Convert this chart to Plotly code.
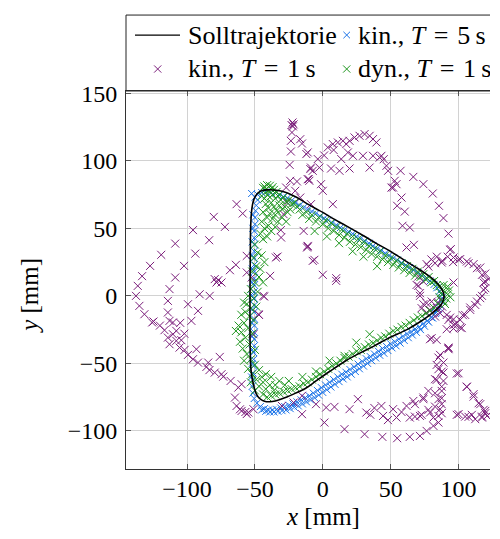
import plotly.graph_objects as go

# ---------------- data (mm) ----------------
soll_x = [-41, -34, -26, -19, -12, -5, 0, 8, 17, 30, 40, 49, 60, 68, 75, 81, 85, 87.5, 89, 89.3,
          88.5, 86.5, 83, 79, 72, 62, 49, 38, 28, 17, 5, -5, -12, -20, -28, -35, -39, -43, -46.5,
          -49, -51, -52.5, -53.2, -53.6, -53.6, -53.4, -53.1, -52.3, -51.1, -49.5, -47.4, -44.5, -41]
soll_y = [78.5, 78.2, 76.2, 72.8, 68.5, 64.5, 61.8, 57, 52, 44.5, 38.5, 33.5, 26.5, 21.5, 17, 12.6,
          8.6, 5.2, 2, -1, -4, -7.5, -10.8, -14, -19, -25, -31, -37, -42, -48, -56, -63, -68, -72,
          -75.5, -77.8, -78.4, -78, -76, -72.5, -66, -58, -50, -30, 0, 30, 52, 64, 70.4, 74, 76.5,
          78, 78.5]

kin5_pts = [
    (-52.4, 75.8), (-50, 73), (-48, 75), (-45, 76.5), (-42, 77), (-38, 76.5), (-35, 76), (-32, 74.5),
    (-29, 73.5), (-26, 72.5), (-23, 70.5), (-20, 69), (-17, 67), (-14, 65.5), (-11, 64), (-8, 62.5),
    (-5, 61), (-2, 59), (1, 57.5), (4, 56), (7, 54), (10, 52.5), (13, 50.5), (16, 49), (19, 47.5),
    (22, 46), (25, 44), (28, 42.5), (31, 40.5), (34, 39), (37, 37), (40, 35), (43, 33.5), (46, 31.5),
    (49, 30), (52, 28), (55, 26.5), (58, 24.5), (61, 22.5), (64, 21), (67, 19), (70, 17), (73, 15),
    (76, 13), (79, 11), (82, 8.5), (84, 6), (86, 3.5), (87.5, 1), (88, -1.5), (87.5, -4),
    (86.5, -7), (85, -10), (83, -13), (80, -16), (77, -18.5), (74, -20.5), (71, -23), (68, -24.5),
    (65, -26.5), (62, -28), (59, -30), (56, -32), (53, -34), (50, -35.5), (47, -37.5), (44, -39),
    (41, -41), (38, -43), (35, -45), (32, -46.5), (29, -48.5), (26, -50.5), (23, -52.5), (20, -54.5),
    (17, -56.5), (14, -58), (11, -60), (8, -62), (5, -64), (2, -66), (-1, -68), (-4, -70), (-7, -72),
    (-10, -74), (-13, -75.5), (-16, -77), (-19, -78.5), (-22, -80), (-25, -81), (-28, -82), (-31, -83),
    (-34, -84), (-37, -84.5), (-40, -84.5), (-43, -83.5), (-46, -82), (-48.5, -79.5), (-50.5, -76),
    (-51.5, -72), (-52, -67), (-51.5, -62), (-51.5, -57), (-51, -52), (-51, -47), (-51, -42),
    (-50.5, -37), (-50.5, -32), (-50.5, -27), (-50.5, -22), (-50.5, -17), (-50.5, -12), (-50.5, -7),
    (-50.5, -2), (-50.5, 3), (-50.5, 8), (-50.5, 13), (-50.5, 18), (-50.5, 23), (-50.5, 28),
    (-50.5, 33), (-50.5, 38), (-50.5, 43), (-50.5, 48), (-50, 53), (-50, 58), (-49.5, 63), (-49, 67),
    (-48, 71),
    (87, -3), (85.5, -8.5), (83.5, -12), (81, -16.5), (78, -19.5), (75, -22.5), (72, -25), (69, -27),
    (66, -29), (63, -31), (60, -33), (57, -35), (54, -37), (51, -38.5), (48, -40.5), (45, -42.5),
    (42, -44), (39, -46), (36, -48), (33, -50), (30, -52), (27, -54), (24, -56), (21, -58), (18, -60),
    (15, -61.5), (12, -63.5), (9, -65.5), (6, -67.5), (3, -69.5), (0, -71.5), (-3, -73.5), (-6, -75.5),
    (-9, -77), (-12, -78.5), (-15, -80), (-18, -81.5), (-21, -82.5), (-24, -83.5), (-27, -84.5),
    (-30, -85), (-33, -85.5), (-36, -86), (-39, -86), (-42, -85.5), (-45, -84.5),
    (-52.5, -60), (-52, -50), (-52, -40), (-52, -30), (-52, -20), (-52, -10), (-52, 0), (-52, 10),
    (-52, 20), (-52, 30), (-52, 40), (-51.5, 50), (-51.5, 60),
]

kin1_pts = [
    (-22.3, 128.4), (-21.5, 127), (-23, 126.5), (-22, 125.5), (-22.7, 121), (-23.5, 114.8),
    (-16.6, 116), (-15.3, 112.8), (-23.5, 106.9), (-12.1, 105), (-24.4, 97), (-10.4, 86.4),
    (-9.2, 93.9), (-24, 85.2), (-19, 84.7), (-27, 80.2), (-20.3, 77.8), (-16.6, 72.8), (-26.4, 69.1),
    (-28.9, 60.5), (-30.9, 48.7), (-30.7, 43.2), (-14.1, 48.1), (-11.6, 35.8), (-34.6, 28.4),
    (-38.8, 14.8), (-11.1, 36.5), (-6.2, 26.7), (0, 15.6), (9.9, 13.1), (-33.3, 29.1), (-43.2, -0.5),
    (-47, -14.1), (-7.4, 25.9), (9.9, 11.1),
    (-63.5, 67.9), (-59, 61), (-80.3, 58.5), (-72.1, 51.1), (-95.6, 48.7), (-83.7, 41.2),
    (-108.7, 38.7), (-93.9, 31.3), (-119, 30.4), (-102.2, 22.2), (-127.2, 22.2), (-133.1, 14.6),
    (-108.7, 13.6), (-64, 23), (-68.4, 19), (-56, 29.6), (-79.6, 12.4), (-77, 11.6), (-56, 17.3),
    (-52.4, 13.6),
    (-136.3, 7.4), (-137.6, 0), (-135.1, -7.4), (-131.4, -13.6), (-125.7, -19.7), (-112.9, 5),
    (-114.1, -3.7), (-114.1, -12.3), (-116.6, -25.4), (-112.9, -18.5), (-110.4, -19.7),
    (-114.1, -30.9), (-110.4, -28.4), (-107.9, -25.9), (-112.9, -35.8), (-107.9, -33.3),
    (-104.2, -32.8), (-105.5, -38.3), (-101.8, -40), (-99.3, -43.7), (-95.6, -46.9), (-91.9, -49.4),
    (-85.7, -52.6), (-79.6, -56.8), (-73.3, -59.8), (-67.9, -63), (-62.2, -67.9), (-64.7, -75.3),
    (-63.5, -81.5), (-59.8, -85.2), (-54.8, -86.4), (-51.1, -83.9), (-57, -86), (-61, -84),
    (-56, -87.5), (-99.3, -6.2), (-96.8, -18.5), (-91.9, -11.1), (-90.7, 1.2), (-83.3, 0),
    (-93.1, -39.5), (-84.4, -49.4), (-83.5, -55), (-75.9, -45.2), (-74.6, -58), (-78.3, 9.9),
    (-74.6, 9.9), (-43.7, 0), (-47.4, -13.6), (-51.1, -28.4), (-59.8, -65.4), (-15.3, -87.6),
    (-30.1, -81.5), (-21.5, -79), (-15.3, -74), (-124.7, -19), (-120, -22), (-105, -20), (-102, -28),
    (-11.1, 106.2), (-8.7, 95), (-7.4, 92.6), (-11.1, 86.4), (-9.9, 85.2), (-1.3, 82.7), (0, 77.8),
    (-3.7, 101.3), (-2.5, 95), (3.7, 109.9), (7.4, 112.4), (11.1, 113.6), (14.8, 114.8),
    (17.3, 112.4), (19.7, 114.8), (23.4, 117.3), (27.1, 118.5), (30.8, 119.8), (34.5, 118.5),
    (37, 116.1), (39.5, 113.6), (43.2, 103.7), (44.9, 101.2), (46.9, 96.3), (48.1, 92.6), (53, 85.2),
    (51.8, 80.2), (57.3, 92.6), (66.7, 88.1), (74.1, 82.7), (81, 75.8), (85.6, 66.7), (88.9, 57.6),
    (92.6, 46.1), (94.3, 34.6), (96.3, 28.4), (101.2, 27.2), (106.1, 25.4), (111.1, 23.5), (116, 21),
    (119.7, 16.5), (122.2, 12.4),
    (6.1, 94.3), (12.3, 92.6), (19.7, 94.3), (13.6, 101.3), (18.5, 106.2), (22.2, 103.7),
    (29.6, 103.7), (34.5, 95), (37, 103.7), (41.9, 102.4), (50.6, 80.2), (54.3, 82.7), (58, 72.8),
    (54.8, 66.7), (60.4, 62.4), (58.7, 51.9), (64.1, 50.6), (61.7, 35.8), (67.1, 37.8), (-8.7, 67.9),
    (7.4, 67.9), (-11.1, 37), (1, 104), (8, 108),
    (76.5, 23.5), (80, 27), (84, 29), (88, 26), (92, 29), (96, 25), (82.7, 24.2), (87.6, 24.7),
    (77.8, 21.7), (100, 26.7), (107.4, 24.2), (113.6, 20.5), (117.3, 15.6), (119.7, 10.6),
    (118.5, 4.4), (116, -1.7), (112.3, -6.7), (108.6, -10.4), (104.9, -14.1), (101.2, -17.8),
    (102.4, -23.9), (96.3, -21.5), (92.6, -17.8), (91.3, -14.1), (93.8, 34.1), (118.5, 9.9),
    (119.7, 5.7), (117.3, 0), (113.6, -4.2), (108.6, -8.6), (103.2, -14.3), (97.5, -21), (96.3, -24.2),
    (91.3, -24.7), (101.2, -23.5), (93.8, -16.1), (96.3, -17.3), (96.3, 9.9),
    (70.4, 14.3), (69.1, 8.1), (71.6, 2), (74.1, 10.6), (80.2, -4.2), (76.5, -5.4), (72.8, -9.1),
    (79, -10.4), (82.7, -15.3), (86.4, -12.8), (70.4, 7.4), (71.6, 0), (74.1, -6.2), (76.5, -12.3),
    (85, -5), (88, -8), (84, -9), (87, -3),
    (80.2, -31.3), (83.9, -32.6), (79, -32.1), (92.6, -39.5), (92.6, -38.8), (86.4, -43.7),
    (85.2, -45.7), (88.9, -49.4), (83.9, -51.1), (85.2, -54.3), (87.6, -56.1), (88.9, -56.8),
    (82.7, -61.7), (83.9, -62.2), (88.9, -63), (87.6, -67.2), (87.6, -70.4), (77.8, -70.4),
    (82.7, -72.1), (85.2, -76.5), (87.6, -75.8), (74.1, -76.5), (87.6, -80.2), (82.7, -82),
    (67.9, -80.2), (86.4, -83.9), (77.8, -84.4), (79, -86.4), (87.6, -86.9), (85.2, -88.9),
    (81.5, -90.1), (72.8, -88.1), (71.6, -88.9), (67.9, -89.4), (64.1, -90.1), (54.3, -90.1),
    (44.4, -88.9), (32.1, -86.4), (19.7, -83.9), (8.6, -82.2), (2.5, -82.7), (-5, -80.2),
    (1.2, -93.8), (16, -98.7), (30.8, -102.4), (43.9, -104.4), (54.8, -105.4), (64.1, -104.4),
    (71.6, -103.7), (76.5, -100), (81.5, -96.3), (85.2, -93.8), (25.9, -76.5), (43.2, -81.5),
    (51.8, -83.9), (61.7, -81.5), (66.7, -77.8), (74.1, -75.3), (35, -88), (48, -92), (58, -86),
    (38, -83),
    (106.1, -67.4), (111.1, -72.8), (116, -80.2), (119.7, -85.2), (121, -88.9), (117.3, -90.1),
    (112.3, -91.3), (107.4, -89.6), (100, -87.6), (98.7, -57.5), (100, -57.3), (106.1, -67.2),
    (111.1, -74.6), (114.8, -79.5), (118.5, -84.4), (119.7, -86.9), (117.3, -89.4), (109.8, -88.1),
    (104.9, -89.4), (98.7, -88.1), (92.6, -38.3),
]

dyn1_pts = [
    (-43, 81), (-41, 82), (-39, 81.5), (-37, 80.5), (-42, 79), (-40, 78), (-38, 79), (-36, 78.5),
    (-34, 77), (-44, 80),
    (-45, 74), (-43, 72), (-41, 75), (-39, 73), (-37, 75), (-35, 72), (-33, 74), (-31, 71), (-29, 73),
    (-27, 70), (-25, 71), (-23, 68), (-21, 69), (-19, 66), (-17, 64), (-42, 68), (-40, 65), (-38, 69),
    (-36, 66), (-34, 63), (-32, 67), (-30, 64), (-28, 66), (-26, 62), (-24, 64), (-44, 62), (-41, 58),
    (-39, 61), (-37, 57), (-35, 60), (-33, 55), (-30, 58), (-27, 55), (-45, 55), (-43, 50), (-40, 52),
    (-38, 48), (-35, 51), (-46, 46), (-44, 42), (-41, 44),
    (-15, 60), (-12, 62), (-10, 57), (-8, 60), (-5, 55), (-3, 58), (0, 53), (2, 56), (4, 50), (6, 54),
    (8, 48), (10, 51), (12, 45), (14, 49), (16, 43), (18, 46), (20, 40), (22, 44), (24, 38), (26, 42),
    (28, 36), (30, 40), (32, 34), (34, 37), (36, 31), (38, 35), (40, 29), (42, 33), (44, 27), (46, 30),
    (48, 25), (50, 28), (52, 23), (54, 26), (56, 21), (58, 24), (60, 19), (62, 22), (64, 17), (66, 20),
    (68, 15), (70, 18), (72, 14), (74, 16), (76, 12), (78, 14), (80, 10), (82, 11), (84, 8), (86, 7),
    (-6, 48), (3, 44), (12, 39), (22, 33), (30, 29), (40, 22),
    (88, 5), (90, 3), (92, 1), (91, -2), (89, -4), (93, 4), (90, -6), (87, 2), (92, 7), (89, 8),
    (94, -1), (86, -1),
    (85, -6), (82, -9), (79, -11), (76, -13), (73, -15), (70, -16), (67, -18), (64, -20), (61, -22),
    (58, -23), (55, -25), (52, -26), (49, -28), (46, -30), (43, -31), (40, -33), (37, -35), (34, -36),
    (31, -38), (28, -40), (25, -41), (22, -43), (19, -45), (16, -46), (13, -48), (10, -50), (7, -52),
    (4, -54), (1, -56), (-2, -58), (-5, -60), (-8, -62), (-11, -64), (-14, -65), (-17, -67),
    (-20, -68), (-23, -69), (-26, -70), (-29, -71), (-32, -72), (-35, -73), (-38, -74), (-41, -75),
    (-44, -73),
    (34.5, -28.4), (24.7, -34.6), (16, -44.4), (5, -48), (-5, -56), (-15, -60), (-25, -63),
    (-32, -63), (-38, -60), (-42, -58), (-35, -66), (-28, -66),
    (-50, 38), (-48, 32), (-51, 28), (-49, 22), (-52, 18), (-47, 14), (-50, 10), (-53, 5), (-48, 3),
    (-55, 0), (-51, -2), (-56, -6), (-53, -9), (-58, -5), (-49, -8), (-57, -12), (-54, -15),
    (-60, -14), (-51, -18), (-58, -20), (-62, -22), (-55, -24), (-60, -27), (-64, -26), (-52, -28),
    (-57, -31), (-61, -34), (-54, -36), (-59, -39), (-50, -40), (-56, -43), (-53, -47), (-58, -48),
    (-50, -51), (-55, -54), (-47, -55), (-52, -58), (-49, -62), (-45, -60), (-53, -64), (-47, -67),
    (-44, -64), (-50, -70), (-42, -69), (-39, -66), (-36, -70),
    (-45, 30), (-43, 25), (-46, 20), (-44, 10),
]

x_ticks = [-100, -50, 0, 50, 100]
y_ticks = [-100, -50, 0, 50, 100, 150]

series_names = ["Solltrajektorie",
                "kin., <i>T</i>\u2004=\u20045\u2009s",
                "kin., <i>T</i>\u2004=\u20041\u2009s",
                "dyn., <i>T</i>\u2004=\u20041\u2009s"]


def lab(v):
    return ("\u2212" + str(abs(v))) if v < 0 else str(v)


FONT = "Liberation Serif"
C_BLUE = "#1a73e8"
C_PURPLE = "#7b1e7b"
C_GREEN = "#1e961e"


def xs(p):
    return [a for a, b in p]


def ys(p):
    return [b for a, b in p]


fig = go.Figure()
fig.add_trace(go.Scatter(x=xs(kin5_pts), y=ys(kin5_pts), mode="markers", name=series_names[1],
                         marker=dict(symbol="x-thin", size=7, line=dict(color=C_BLUE, width=1))))
fig.add_trace(go.Scatter(x=xs(kin1_pts), y=ys(kin1_pts), mode="markers", name=series_names[2],
                         marker=dict(symbol="x-thin", size=8, line=dict(color=C_PURPLE, width=1))))
fig.add_trace(go.Scatter(x=xs(dyn1_pts), y=ys(dyn1_pts), mode="markers", name=series_names[3],
                         marker=dict(symbol="x-thin", size=8, line=dict(color=C_GREEN, width=1))))
fig.add_trace(go.Scatter(x=soll_x, y=soll_y, mode="lines", name=series_names[0],
                         line=dict(color="black", width=1.6, shape="spline")))

axis_common = dict(
    showgrid=True, gridcolor="#d2d2d2", gridwidth=1, zeroline=False,
    showline=True, linecolor="#333333", linewidth=1,
    ticks="inside", ticklen=5, tickcolor="#555555", automargin=False,
    tickfont=dict(family=FONT, size=24, color="black"),
)

# The page has an 8px body margin: the figure (482x523) sits at page (8, 8).
# Plot area in page pixels: x 126..490, y 91..469.3  (paper units below)
PW, PH = 364.0, 378.3


def px(page_x):
    return (page_x - 126.0) / PW


def py(page_y):
    return (469.3 - page_y) / PH


def cross(cx, cy, color, r=3.6):
    x0, x1 = px(cx - r), px(cx + r)
    y0, y1 = py(cy - r), py(cy + r)
    return dict(type="path", xref="paper", yref="paper",
                path=f"M {x0},{y0} L {x1},{y1} M {x0},{y1} L {x1},{y0}",
                line=dict(color=color, width=1))


LEG_FONT = dict(family=FONT, size=26, color="black")
row1, row2 = 35.3, 68.7
leg_annots = [
    dict(text=series_names[0], x=px(186), y=py(row1)),
    dict(text=series_names[1], x=px(356), y=py(row1)),
    dict(text=series_names[2], x=px(186), y=py(row2)),
    dict(text=series_names[3], x=px(356), y=py(row2)),
]
annotations = [dict(xref="paper", yref="paper", xanchor="left", yanchor="middle",
                    showarrow=False, font=LEG_FONT, **a) for a in leg_annots]
annotations += [
    dict(text="<i>x</i> [mm]", x=0, xref="x", y=-63.5 / PH, yref="paper",
         xanchor="center", yanchor="bottom", showarrow=False,
         font=dict(family=FONT, size=25, color="black")),
    dict(text="<i>y</i> [mm]", x=px(30), xref="paper", y=0, yref="y",
         xanchor="center", yanchor="middle", showarrow=False, textangle=-90,
         font=dict(family=FONT, size=25, color="black")),
]

shapes = [
    dict(type="rect", xref="paper", yref="paper", x0=0, x1=1.05, y0=py(91), y1=py(15),
         line=dict(color="#222222", width=1), fillcolor="rgba(0,0,0,0)", layer="above"),
    dict(type="line", xref="paper", yref="paper", x0=px(135), x1=px(180), y0=py(35), y1=py(35),
         line=dict(color="black", width=1.2)),
    cross(346.7, 35, C_BLUE, 3.3),
    cross(157.7, 69, C_PURPLE),
    cross(346.7, 69, C_GREEN),
]

fig.update_layout(
    width=482, height=523,
    margin=dict(l=118, r=0, t=83, b=62),
    paper_bgcolor="white", plot_bgcolor="white",
    font=dict(family=FONT, size=25, color="black"),
    showlegend=False,
    xaxis=dict(range=[-144.96, 123.19], tickvals=x_ticks, ticktext=[lab(v) for v in x_ticks],
               mirror="ticks", ticklabelstandoff=-2, **axis_common),
    yaxis=dict(range=[-128.2, 151.7], tickvals=y_ticks, ticktext=[lab(v) for v in y_ticks],
               mirror=False, ticklabelstandoff=3, **axis_common),
    annotations=annotations,
    shapes=shapes,
)

fig.write_html("out.html")
